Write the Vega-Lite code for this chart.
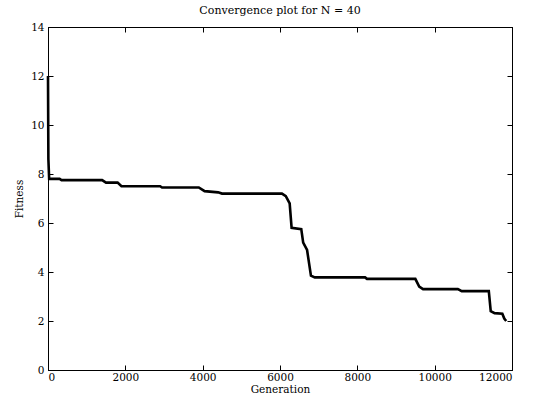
{
  "$schema": "https://vega.github.io/schema/vega-lite/v6.json",
  "autosize": {"type": "none"},
  "padding": {"left": 48, "top": 27, "right": 25, "bottom": 33},
  "width": 464,
  "height": 343,
  "background": "white",
  "config": {
    "font": "DejaVu Serif",
    "view": {"stroke": "black", "strokeWidth": 1},
    "axis": {"grid": false, "domainColor": "black", "tickColor": "black", "tickSize": -5, "labelPadding": 9, "labelFontSize": 10.5, "labelColor": "black", "titleFontSize": 10.5, "titleFontWeight": "normal", "titleColor": "black", "labelFont": "DejaVu Serif", "titleFont": "DejaVu Serif"}
  },
  "title": {"text": "Convergence plot for N = 40", "fontSize": 11, "fontWeight": "normal", "font": "DejaVu Serif", "offset": 6},
  "data": {"values": [
    {"g": 0, "f": 12.0}, {"g": 10, "f": 8.6}, {"g": 30, "f": 7.8}, {"g": 300, "f": 7.8}, {"g": 350, "f": 7.75},
    {"g": 1400, "f": 7.75}, {"g": 1500, "f": 7.65}, {"g": 1800, "f": 7.65}, {"g": 1900, "f": 7.5},
    {"g": 2900, "f": 7.5}, {"g": 2950, "f": 7.45}, {"g": 3900, "f": 7.45}, {"g": 4050, "f": 7.3},
    {"g": 4400, "f": 7.25}, {"g": 4500, "f": 7.2}, {"g": 6050, "f": 7.2}, {"g": 6150, "f": 7.1},
    {"g": 6250, "f": 6.8}, {"g": 6300, "f": 5.8}, {"g": 6550, "f": 5.75}, {"g": 6600, "f": 5.2},
    {"g": 6700, "f": 4.9}, {"g": 6800, "f": 3.85}, {"g": 6900, "f": 3.78}, {"g": 8200, "f": 3.78},
    {"g": 8250, "f": 3.72}, {"g": 9500, "f": 3.72}, {"g": 9600, "f": 3.4}, {"g": 9700, "f": 3.3},
    {"g": 10600, "f": 3.3}, {"g": 10700, "f": 3.22}, {"g": 11400, "f": 3.22}, {"g": 11450, "f": 2.4},
    {"g": 11550, "f": 2.32}, {"g": 11750, "f": 2.3}, {"g": 11800, "f": 2.1}, {"g": 11850, "f": 2.0}
  ]},
  "layer": [
    {
      "mark": {"type": "line", "color": "black", "strokeWidth": 2.6},
      "encoding": {
        "x": {"field": "g", "type": "quantitative", "title": "Generation", "scale": {"domain": [0, 12000], "nice": false}, "axis": {"values": [0, 2000, 4000, 6000, 8000, 10000, 12000], "format": "d", "labelPadding": 7, "titlePadding": 2}},
        "y": {"field": "f", "type": "quantitative", "title": "Fitness", "scale": {"domain": [0, 14], "nice": false}, "axis": {"values": [0, 2, 4, 6, 8, 10, 12, 14], "titlePadding": 6}}
      }
    },
    {
      "mark": {"type": "line", "opacity": 0},
      "encoding": {
        "x": {"field": "g", "type": "quantitative", "scale": {"domain": [0, 12000], "nice": false}, "axis": {"orient": "top", "values": [0, 2000, 4000, 6000, 8000, 10000, 12000], "labels": false, "title": null}},
        "y": {"field": "f", "type": "quantitative", "scale": {"domain": [0, 14], "nice": false}, "axis": {"orient": "right", "values": [0, 2, 4, 6, 8, 10, 12, 14], "labels": false, "title": null}}
      }
    }
  ],
  "resolve": {"axis": {"x": "independent", "y": "independent"}}
}
